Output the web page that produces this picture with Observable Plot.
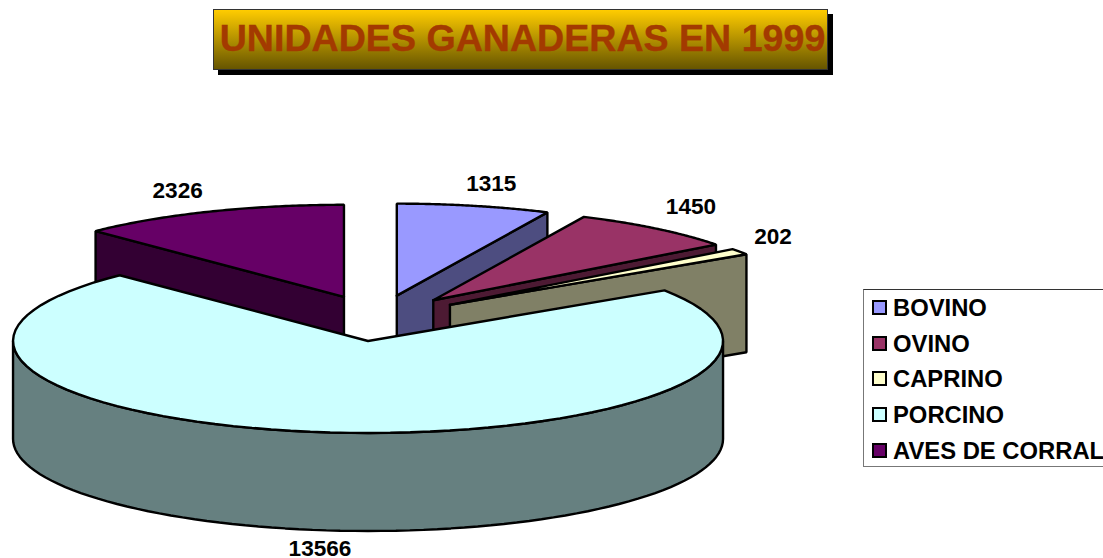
<!DOCTYPE html>
<html><head><meta charset="utf-8">
<script src="https://cdn.jsdelivr.net/npm/d3@7"></script>
<script src="https://cdn.jsdelivr.net/npm/@observablehq/plot@0.6"></script>
<style>
html,body{margin:0;padding:0;background:#fff;overflow:hidden}
#stage{position:relative;width:1103px;height:558px;overflow:hidden;font-family:"Liberation Sans",Arial,sans-serif}
#stage svg{position:absolute;left:0;top:0}
#title{position:absolute;left:213px;top:9px;width:615px;height:61px;box-sizing:border-box;border:1px solid #333;padding-left:4px;
 background:linear-gradient(#ffcc00,#665500);box-shadow:5px 5px 0 #000;color:#a33a00;font-weight:bold;font-size:37.6px;line-height:57px;text-align:center;white-space:nowrap;-webkit-text-stroke:0.4px #a33a00}
#legend{position:absolute;left:863px;top:289px;width:260px;height:178px;box-sizing:border-box;border:1px solid #333;border-left-color:#777;border-bottom-color:#777;background:#fff}
.row{position:absolute;left:8px;height:24px;font-weight:bold;font-size:23.8px;line-height:24px;white-space:nowrap;color:#000}
.sw{display:inline-block;width:11px;height:11px;border:2px solid #000;margin-right:6px;vertical-align:1px}
</style></head>
<body><div id="stage">
<div id="title">UNIDADES GANADERAS EN 1999</div>
<div id="legend"></div>
</div>
<script>
const categories = ["BOVINO","OVINO","CAPRINO","PORCINO","AVES DE CORRAL"];
const values = [1315,1450,202,13566,2326];
const topColors = ["#9999ff","#993366","#ffffcc","#ccffff","#660066"];
const sideColors = ["#4d4d80","#4d1a33","#808066","#668080","#330033"];
const labelReachX = [1.225,1.155,1.115,1.27,1.24];
const labelReachY = [1.245,1.30,1.28,1.195,1.24];

// pie geometry (tilted ellipse, exploded slices)
const cx = 377, cy = 317.6, rx = 355, ry = 92, depth = 98, explode = 0.25;
const total = d3.sum(values);
let acc = 0;
const slices = values.map((v,i)=>{
  const a0 = acc/total*2*Math.PI; acc += v;
  const a1 = acc/total*2*Math.PI, mid = (a0+a1)/2;
  return {i,v,a0,a1,mid,name:categories[i],
    ax: cx+explode*rx*Math.sin(mid), ay: cy-explode*ry*Math.cos(mid)};
});
const rim = (s,a)=>[s.ax+rx*Math.sin(a), s.ay-ry*Math.cos(a)];
const arc = (s,a,b)=>d3.range(0,81).map(k=>rim(s,a+(b-a)*k/80));
const faces = [];
const addFace = (id,pts,fill)=>{
  const closed = [...pts,pts[0]];
  closed.forEach(p=>faces.push({id,x:p[0],y:p[1],fill}));
};
const wall = (s,a)=>{
  const p = rim(s,a);
  addFace(`w${s.i}${a}`,[[s.ax,s.ay],p,[p[0],p[1]+depth],[s.ax,s.ay+depth]],sideColors[s.i]);
};
const topFace = s=>addFace(`t${s.i}`,[[s.ax,s.ay],...arc(s,s.a0,s.a1)],topColors[s.i]);
const [bov,ovi,cap,por,ave] = slices;
[bov,ovi,cap].forEach(s=>{wall(s,s.a1);topFace(s);});
wall(ave,ave.a0);topFace(ave);
// front rim of the big slice (90deg to 270deg)
const front = arc(por,Math.PI/2,3*Math.PI/2);
addFace("rim",[...front,...front.slice().reverse().map(p=>[p[0],p[1]+depth])],sideColors[3]);
topFace(por);

const labels = slices.map(s=>{
  const extra = s.i===3 ? depth : 0;
  return {text:String(s.v),
    x:s.ax+labelReachX[s.i]*rx*Math.sin(s.mid),
    y:s.ay-labelReachY[s.i]*ry*Math.cos(s.mid)+extra};
});

const chart = Plot.plot({
  width:1103,height:558,margin:0,
  x:{domain:[0,1103],range:[0,1103],axis:null},
  y:{domain:[0,558],range:[0,558],axis:null},
  style:{background:"transparent"},
  marks:[
    Plot.line(faces,{x:"x",y:"y",z:"id",fill:"fill",stroke:"#000",strokeWidth:2.4,strokeLinejoin:"miter",curve:"linear"}),
    Plot.text(labels,{x:"x",y:"y",text:"text",fontSize:22.6,fontWeight:"bold",fill:"#000",fontFamily:"Liberation Sans, Arial, sans-serif"})
  ]
});
const stage = document.getElementById("stage");
stage.insertBefore(chart,stage.firstChild);

const legend = document.getElementById("legend");
categories.forEach((c,i)=>{
  const r = document.createElement("div");
  r.className="row"; r.style.top=(6+i*35.7)+"px";
  const s = document.createElement("span");
  s.className="sw"; s.style.background=topColors[i];
  r.appendChild(s); r.appendChild(document.createTextNode(c));
  legend.appendChild(r);
});
</script>
</body></html>
